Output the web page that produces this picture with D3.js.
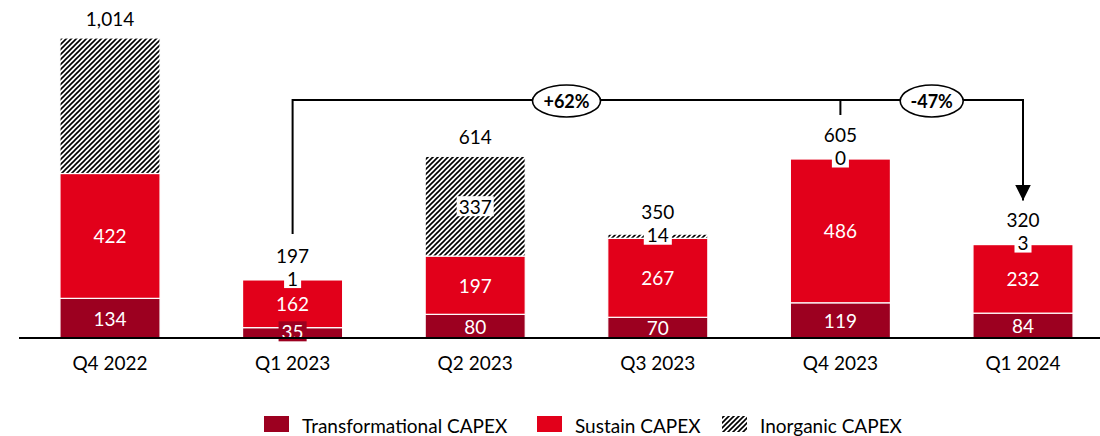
<!DOCTYPE html>
<html>
<head>
<meta charset="utf-8">
<script src="https://cdn.jsdelivr.net/npm/d3@7"></script>
<style>
  html, body { margin: 0; padding: 0; background: #fff; }
  svg { display: block; font-family: Lato, "Open Sans", sans-serif; }
</style>
</head>
<body>
<svg id="chart" width="1100" height="436"></svg>
<script>
// ---- data ----
const categories = ["Q4 2022", "Q1 2023", "Q2 2023", "Q3 2023", "Q4 2023", "Q1 2024"];
const transformational = [134, 35, 80, 70, 119, 84];
const sustain = [422, 162, 197, 267, 486, 232];
const inorganic = [458, 1, 337, 14, 0, 3];
const inorganicLabelShown = [false, true, true, true, true, true];
const totals = [1014, 197, 614, 350, 605, 320];
const totalLabels = ["1,014", "197", "614", "350", "605", "320"];
const seriesNames = ["Transformational CAPEX", "Sustain CAPEX", "Inorganic CAPEX"];
const changeFrom = ["Q1 2023", "Q4 2023"];
const changeTo = ["Q4 2023", "Q1 2024"];
const changeLabels = ["+62%", "-47%"];

// ---- layout ----
const W = 1100, H = 436;
const baseY = 338, topY = 38;
const colors = ["#9C0020", "#E2001A", "url(#hatch)"];
const svg = d3.select("#chart");

const defs = svg.append("defs");
const pat = defs.append("pattern").attr("id", "hatch")
  .attr("patternUnits", "userSpaceOnUse").attr("width", 5).attr("height", 5);
pat.append("rect").attr("width", 5).attr("height", 5).attr("fill", "#fff");
pat.append("path").attr("d", "M-1,6 L6,-1 M-1,1 L1,-1 M4,6 L6,4")
  .attr("stroke", "#000").attr("stroke-width", 1.6);

const x = d3.scaleBand().domain(categories).range([18.7, 1114.3])
  .paddingInner(0.452).paddingOuter(0.226);
const y = d3.scaleLinear().domain([0, d3.max(totals)]).range([baseY, topY]);

const rows = categories.map((c, i) => ({ cat: c, idx: i, t: transformational[i], s: sustain[i], n: inorganic[i] }));
const stack = d3.stack().keys(["t", "s", "n"])(rows);

const fontSize = 19;
const g = svg.append("g");

// bars
stack.forEach((layer, li) => {
  g.append("g").selectAll("rect").data(layer).join("rect")
    .attr("x", d => x(d.data.cat))
    .attr("width", x.bandwidth())
    .attr("y", d => y(d[1]))
    .attr("height", d => Math.max(0, y(d[0]) - y(d[1])))
    .attr("fill", colors[li])
    .attr("stroke", "#fff").attr("stroke-width", 1.2);
});

// category axis
const xAxis = d3.axisBottom(x).tickSize(0).tickPadding(19);
const ax = svg.append("g").attr("transform", `translate(0,${baseY})`).call(xAxis);
ax.select(".domain").remove();
ax.selectAll("text").attr("font-size", fontSize).attr("font-family", "Lato, 'Open Sans', sans-serif").attr("fill", "#000");

// segment labels
const smallLabelCenter = {};
stack.forEach((layer, li) => {
  layer.forEach(d => {
    if (li === 2 && !inorganicLabelShown[d.data.idx]) return;
    const v = d[1] - d[0];
    const h = y(d[0]) - y(d[1]);
    const cx = x(d.data.cat) + x.bandwidth() / 2;
    const small = h < 16;
    const cy = small ? (y(d[0]) + y(d[1])) / 2 - 1.5 : (y(d[0]) + y(d[1])) / 2;
    const lg = svg.append("g");
    const t = lg.append("text").attr("x", cx).attr("y", cy)
      .attr("text-anchor", "middle").attr("dominant-baseline", "central")
      .attr("font-size", fontSize).text(v);
    if (small) {
      const bb = t.node().getBBox();
      const bg = li === 0 ? colors[0] : "#fff";
      lg.insert("rect", "text").attr("x", bb.x - 3).attr("y", cy - 10)
        .attr("width", bb.width + 6).attr("height", 20).attr("fill", bg);
      t.attr("fill", li === 0 ? "#fff" : "#000");
      if (li === 2) smallLabelCenter[d.data.cat] = cy;
    } else {
      t.attr("fill", li === 2 ? "#000" : "#fff");
      if (li === 2) {
        const bb = t.node().getBBox();
        lg.insert("rect", "text").attr("x", bb.x - 2).attr("y", cy - 10)
          .attr("width", bb.width + 4).attr("height", 20).attr("fill", "#fff");
      }
    }
  });
});
// axis line on top of labels
svg.append("line").attr("x1", 19).attr("x2", W).attr("y1", baseY).attr("y2", baseY)
  .attr("stroke", "#000").attr("stroke-width", 2);

// total labels
const totalY = {};
categories.forEach((c, i) => {
  const cy = smallLabelCenter[c] !== undefined ? smallLabelCenter[c] - 23 : y(totals[i]) - 20;
  totalY[c] = cy;
  svg.append("text").attr("x", x(c) + x.bandwidth() / 2).attr("y", cy)
    .attr("text-anchor", "middle").attr("dominant-baseline", "central")
    .attr("font-size", fontSize).attr("fill", "#000").text(totalLabels[i]);
});

// change annotations
const bracketY = 100;
const cxOf = c => x(c) + x.bandwidth() / 2;
defs.append("marker").attr("id", "arrow").attr("viewBox", "0 0 10 10")
  .attr("refX", 10).attr("refY", 5).attr("markerWidth", 16).attr("markerHeight", 16)
  .attr("markerUnits", "userSpaceOnUse").attr("orient", "auto")
  .append("path").attr("d", "M0,0 L10,5 L0,10 Z").attr("fill", "#000");

const ann = svg.append("g").attr("fill", "none").attr("stroke", "#000").attr("stroke-width", 2);
const firstC = changeFrom[0], midC = changeTo[0], lastC = changeTo[1];
ann.append("path")
  .attr("d", `M${cxOf(firstC)},${totalY[firstC] - 21} V${bracketY} H${cxOf(lastC)} V${totalY[lastC] - 19}`)
  .attr("marker-end", "url(#arrow)");
ann.append("line").attr("x1", cxOf(midC)).attr("x2", cxOf(midC))
  .attr("y1", bracketY).attr("y2", bracketY + 15);

changeLabels.forEach((lab, i) => {
  const mx = (cxOf(changeFrom[i]) + cxOf(changeTo[i])) / 2;
  const rx = i === 0 ? 34 : 31.5;
  svg.append("ellipse").attr("cx", mx).attr("cy", bracketY + 1).attr("rx", rx).attr("ry", 16)
    .attr("fill", "#fff").attr("stroke", "#000").attr("stroke-width", 1.6);
  svg.append("text").attr("x", mx).attr("y", bracketY + 1)
    .attr("text-anchor", "middle").attr("dominant-baseline", "central")
    .attr("font-size", 18).attr("font-weight", "bold").attr("fill", "#000").text(lab);
});

// legend
const legendX = [264, 537, 722];
const legend = svg.append("g");
seriesNames.forEach((name, i) => {
  legend.append("rect").attr("x", legendX[i]).attr("y", 416).attr("width", 25).attr("height", 16)
    .attr("fill", colors[i]);
  legend.append("text").attr("x", legendX[i] + 38).attr("y", 425)
    .attr("dominant-baseline", "central").attr("font-size", fontSize).attr("fill", "#000").text(name);
});
</script>
</body>
</html>
